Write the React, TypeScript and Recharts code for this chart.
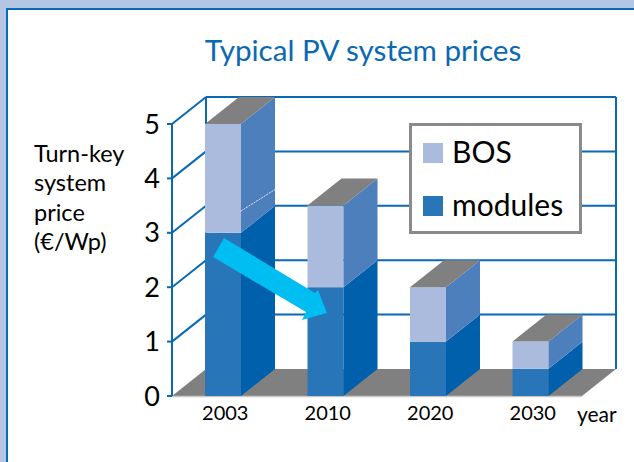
import React from 'react';
import { BarChart, Bar, XAxis, YAxis, CartesianGrid, Legend } from 'recharts';

const years = ['2003', '2010', '2020', '2030'];
const modules = [3, 2, 1, 0.5];
const bos = [2, 1.5, 1, 0.5];
const priceTicks = [0, 1, 2, 3, 4, 5];
const yLabelLines = ['Turn-key', 'system', 'price', '(€/Wp)'];

const data = years.map((year, i) => ({ year, modules: modules[i], bos: bos[i] }));

const BLUE = '#0a69b3';
const DX = 34;
const DY = -27;
const FONT = 'Lato, sans-serif';

// front + side face of one stack segment, optionally with a grey lid
const Box = ({ x, y, width, height, front, side, lid, seam }: any) => (
  <g>
    <rect x={x} y={y} width={width} height={height} fill={front} />
    <polygon
      points={`${x + width},${y} ${x + width + DX},${y + DY} ${x + width + DX},${y + height + DY} ${x + width},${y + height}`}
      fill={side}
    />
    {lid && (
      <polygon
        points={`${x},${y} ${x + DX},${y + DY} ${x + width + DX},${y + DY} ${x + width},${y}`}
        fill="#808080"
      />
    )}
    {seam && (
      <line
        x1={x + width}
        y1={y + height * 0.8}
        x2={x + width + DX}
        y2={y + height * 0.8 + DY * 0.8}
        stroke="#fff"
        strokeWidth={0.8}
        strokeDasharray="2 1"
      />
    )}
  </g>
);

// each grid line runs along the side wall, then the back wall
const wallLine = (props: any) => {
  const { x1, x2, y1, index } = props;
  const isFloor = index === 0;
  const isTop = index === priceTicks.length - 1;
  return (
    <g key={`wall-${index}`}>
      {isFloor && (
        <>
          <polygon
            points={`${x1},${y1} ${x1 + DX},${y1 + DY} ${x2 + DX},${y1 + DY} ${x2},${y1}`}
            fill="#808080"
          />
          <line x1={x1} y1={y1 + 0.5} x2={x2} y2={y1 + 0.5} stroke="#c8c8c8" strokeWidth={1.5} />
        </>
      )}
      {!isFloor && (
        <>
          <line x1={x1} y1={y1} x2={x1 + DX} y2={y1 + DY} stroke={BLUE} strokeWidth={2} />
          <line x1={x1 + DX} y1={y1 + DY} x2={x2 + DX} y2={y1 + DY} stroke={BLUE} strokeWidth={2} />
        </>
      )}
      {isTop && (
        <>
          <line x1={x1 + DX} y1={y1 + DY} x2={x1 + DX} y2={396 + DY} stroke={BLUE} strokeWidth={2} />
          <line x1={x2 + DX} y1={y1 + DY} x2={x2 + DX} y2={396 + DY} stroke={BLUE} strokeWidth={2} />
        </>
      )}
    </g>
  );
};

const legendContent = ({ payload }: any) => (
  <div
    style={{
      width: 173,
      height: 111,
      boxSizing: 'border-box',
      border: '3px solid #8a8a8a',
      background: '#fff',
      fontFamily: FONT,
      fontSize: 30,
      color: '#000',
    }}
  >
    {(payload || []).map((entry: any) => (
      <div key={entry.value} style={{ display: 'flex', alignItems: 'center', height: 53, paddingLeft: 11 }}>
        <span style={{ width: 20, height: 20, background: entry.color, marginRight: 9 }} />
        <span style={{ position: 'relative', top: -2 }}>{entry.value}</span>
      </div>
    ))}
  </div>
);

const App = () => (
  <div style={{ position: 'absolute', left: 0, top: 0, width: 634, height: 462, background: '#b4c6e3', overflow: 'hidden' }}>
    <div
      style={{
        position: 'absolute',
        left: 6,
        top: 8,
        width: 628,
        height: 454,
        boxSizing: 'border-box',
        background: '#fff',
        borderLeft: `2px solid ${BLUE}`,
        borderTop: `2px solid ${BLUE}`,
      }}
    />
    <div style={{ position: 'absolute', left: 0, top: 0 }}>
      <BarChart
        width={634}
        height={462}
        data={data}
        margin={{ top: 124, right: 52, bottom: 36, left: 0 }}
      >
        <CartesianGrid horizontal={wallLine} vertical={false} />
        <XAxis
          dataKey="year"
          axisLine={false}
          tickLine={false}
          height={30}
          tick={{ fontSize: 20, fontFamily: FONT, fill: '#000', dx: 2 }}
          tickMargin={4}
        />
        <YAxis
          width={172}
          domain={[0, 5]}
          ticks={priceTicks}
          interval={0}
          axisLine={{ stroke: BLUE, strokeWidth: 2 }}
          tickLine={{ stroke: BLUE, strokeWidth: 2 }}
          tickSize={5}
          tickMargin={7}
          tick={{ fontSize: 27, fontFamily: FONT, fill: '#000' }}
        />
        <Legend
          content={legendContent}
          verticalAlign="middle"
          align="center"
          wrapperStyle={{ position: 'absolute', left: 409, top: 123, width: 173, height: 111 }}
        />
        <Bar
          dataKey="modules"
          name="modules"
          stackId="price"
          fill="#2875b8"
          barSize={36}
          isAnimationActive={false}
          shape={(p: any) => <Box {...p} front="#2875b8" side="#0060ab" />}
        />
        <Bar
          dataKey="bos"
          name="BOS"
          stackId="price"
          fill="#abbbdd"
          barSize={36}
          isAnimationActive={false}
          shape={(p: any) => <Box {...p} front="#abbbdd" side="#4e7fbd" lid seam={p.index === 0} />}
        />
        <text x={363} y={61} textAnchor="middle" fontSize={29.6} fontFamily={FONT} fill={BLUE}>
          Typical PV system prices
        </text>
        <text x={577} y={422} fontSize={21} fontFamily={FONT} fill="#000">year</text>
        {yLabelLines.map((line, i) => (
          <text key={line} x={34} y={162 + i * 29.3} fontSize={23.5} fontFamily={FONT} fill="#000">
            {line}
          </text>
        ))}
      </BarChart>
    </div>
    {/* the falling-price arrow sits over the bars, so it gets its own layer */}
    <svg width={634} height={462} style={{ position: 'absolute', left: 0, top: 0, pointerEvents: 'none' }}>
      <polygon points="213,257 224,238 315,293 318,290 327,313 302,320 306,312" fill="#00bdf2" />
    </svg>
  </div>
);

export default App;
